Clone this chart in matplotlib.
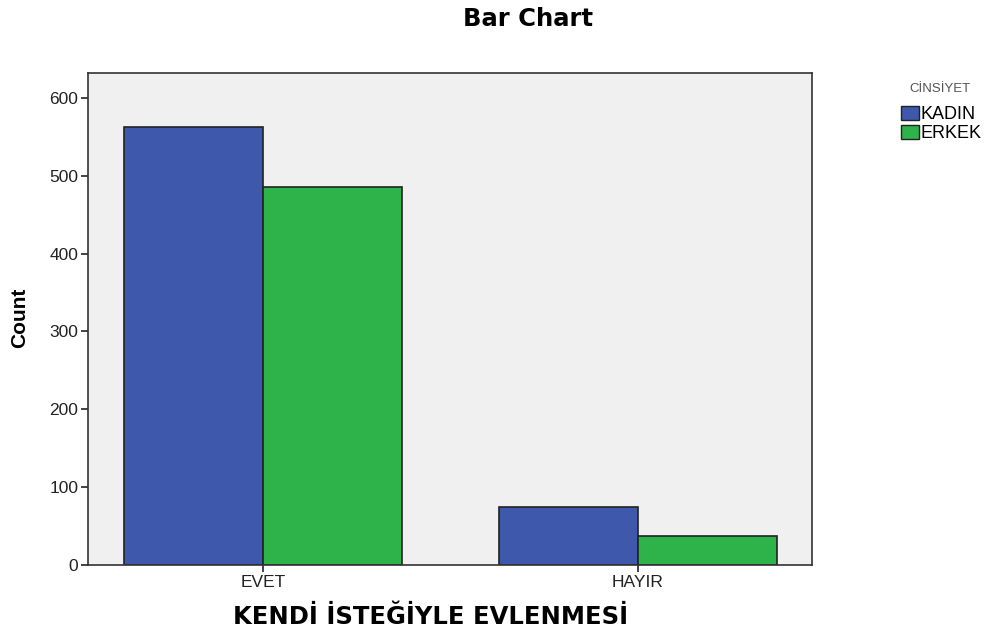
import numpy as np
import matplotlib.pyplot as plt
from matplotlib.patches import Patch

plt.rcParams['font.family'] = ['Liberation Sans', 'DejaVu Sans']

kategoriler = ["EVET", "HAYIR"]
kadin = [562, 75]
erkek = [485, 37]
seriler = ["KADIN", "ERKEK"]
renkler = ["#3e58ac", "#2db34a"]

fig = plt.figure(figsize=(9.84, 6.33), dpi=100)
ax = fig.add_axes([0.0894, 0.1074, 0.7357, 0.7773])
ax.set_facecolor("#f0f0f0")

x = np.arange(len(kategoriler))
w = 0.37
ax.bar(x - w / 2, kadin, w, color=renkler[0], edgecolor="#222222", linewidth=1.2)
ax.bar(x + w / 2, erkek, w, color=renkler[1], edgecolor="#222222", linewidth=1.2)

ax.set_xlim(-0.467, 1.464)
ax.set_ylim(0, 632)
ax.set_yticks([0, 100, 200, 300, 400, 500, 600])
ax.set_xticks(x)
ax.set_xticklabels(kategoriler)
ax.tick_params(axis="both", labelsize=12.5, length=5, width=1.2, colors="#222222", pad=2)
for s in ax.spines.values():
    s.set_linewidth(1.2)
    s.set_color("#333333")

# asiu pavadinimai
fig.text(20 / 984, 1 - 318 / 633, "Count", rotation=90, ha="center", va="center",
         fontsize=15, fontweight="bold")
fig.text(431 / 984, 1 - 617 / 633, "KENDİ İSTEĞİYLE EVLENMESİ", ha="center", va="center",
         fontsize=17.5, fontweight="bold", family="DejaVu Sans")
fig.text(528 / 984, 1 - 19 / 633, "Bar Chart", ha="center", va="center",
         fontsize=17.5, fontweight="bold", family="DejaVu Sans")

# legenda
fig.text(940 / 984, 1 - 89 / 633, "CİNSİYET", ha="center", va="center",
         fontsize=9.5, color="#555555")
handles = [Patch(facecolor=renkler[i], edgecolor="#222222", label=seriler[i]) for i in range(2)]
fig.legend(handles=handles, loc="upper left",
           bbox_to_anchor=(0.9156, 1 - 106 / 633), frameon=False, fontsize=13,
           handlelength=1.0, handleheight=0.78,
           handletextpad=0.1, labelspacing=0.12, borderpad=0, borderaxespad=0)

fig.savefig("out.png", dpi=100)
